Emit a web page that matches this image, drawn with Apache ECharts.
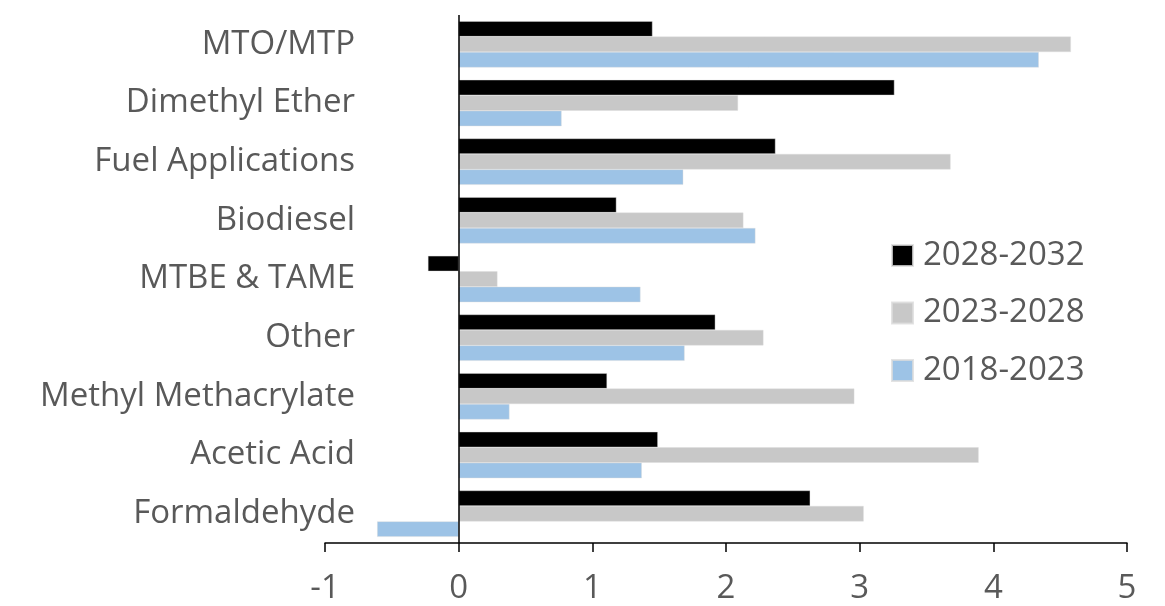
<!DOCTYPE html>
<html>
<head>
<meta charset="utf-8">
<script src="https://cdn.jsdelivr.net/npm/echarts@6/dist/echarts.min.js"></script>
<style>
  html, body { margin: 0; padding: 0; background: #fff; }
  #chart { width: 1165px; height: 606px; }
</style>
</head>
<body>
<div id="chart"></div>
<script>
// Methanol demand growth by end use (% per year)
const categories = [
  'MTO/MTP', 'Dimethyl Ether', 'Fuel Applications', 'Biodiesel', 'MTBE & TAME',
  'Other', 'Methyl Methacrylate', 'Acetic Acid', 'Formaldehyde'
];
const growth2028_2032 = [1.45, 3.26, 2.37, 1.18, -0.23, 1.92, 1.11, 1.49, 2.63];
const growth2023_2028 = [4.58, 2.09, 3.68, 2.13, 0.29, 2.28, 2.96, 3.89, 3.03];
const growth2018_2023 = [4.34, 0.77, 1.68, 2.22, 1.36, 1.69, 0.38, 1.37, -0.61];
const xTicks = { min: -1, max: 5, interval: 1 };

const textColor = '#595959';
const fontFamily = '"Open Sans", "Noto Sans", sans-serif';

const chart = echarts.init(document.getElementById('chart'));

function barSeries(name, data, color) {
  return {
    name: name,
    type: 'bar',
    data: data,
    barGap: '0%',
    barCategoryGap: '21%',
    itemStyle: { color: color, borderColor: 'rgba(220,220,220,0.8)', borderWidth: 0.5 },
    emphasis: { disabled: true }
  };
}

const series = [
  barSeries('2028-2032', growth2028_2032, '#000000'),
  barSeries('2023-2028', growth2023_2028, '#c8c8c8'),
  barSeries('2018-2023', growth2018_2023, '#9dc3e6')
];

// vertical baseline at zero
series[0].markLine = {
  silent: true,
  symbol: 'none',
  label: { show: false },
  lineStyle: { color: '#000', width: 1.5, type: 'solid' },
  data: [{ xAxis: 0 }]
};

chart.setOption({
  animation: false,
  backgroundColor: '#fff',
  grid: { left: 325, right: 38, top: 15, bottom: 63, containLabel: false },
  legend: {
    orient: 'vertical',
    left: 891,
    top: 237,
    padding: 0,
    itemWidth: 21,
    itemHeight: 21,
    itemGap: 20.5,
    icon: 'rect',
    textStyle: {
      color: textColor, fontSize: 33, fontFamily: fontFamily, lineHeight: 37,
      padding: [0, 0, 0, 5]
    },
    data: ['2028-2032', '2023-2028', '2018-2023']
  },
  xAxis: {
    type: 'value',
    min: xTicks.min,
    max: xTicks.max,
    interval: xTicks.interval,
    axisLine: { show: true, onZero: false, lineStyle: { color: '#000', width: 1.5 } },
    axisTick: { show: true, length: 9, lineStyle: { color: '#000', width: 1.5 } },
    axisLabel: { color: textColor, fontSize: 33, fontFamily: fontFamily, margin: 29 },
    splitLine: { show: false }
  },
  yAxis: {
    type: 'category',
    inverse: true,
    data: categories,
    axisLine: { show: false, onZero: false },
    axisTick: { show: false },
    axisLabel: {
      color: textColor, fontSize: 33, fontFamily: fontFamily, margin: -30,
      lineHeight: 40, padding: [6, 0, 0, 0]
    },
    splitLine: { show: false }
  },
  series: series
});
</script>
</body>
</html>
